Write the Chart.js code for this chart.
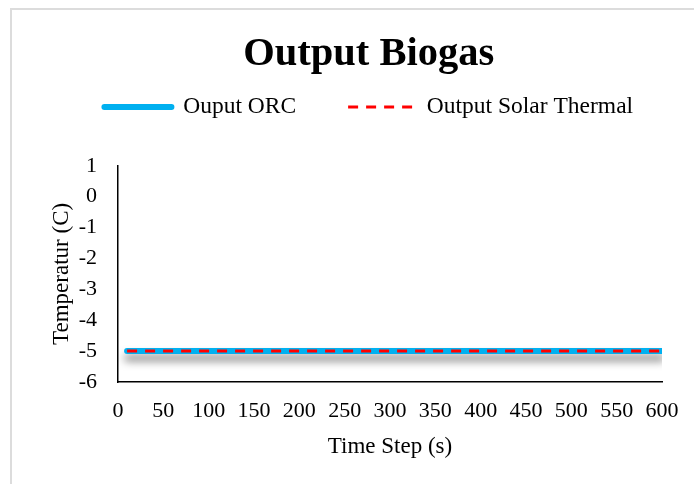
<!DOCTYPE html>
<html>
<head>
<meta charset="utf-8">
<script src="https://cdn.jsdelivr.net/npm/chart.js@4/dist/chart.umd.min.js"></script>
<style>
    html, body { margin: 0; padding: 0; background: #fff; }
    #wrap { position: relative; width: 694px; height: 484px; overflow: hidden; }
    #frame {
        position: absolute; left: 10px; top: 8px; width: 720px; height: 520px;
        border-top: 2px solid #dcdcdc; border-left: 2px solid #dcdcdc;
    }
    #outputChart { position: absolute; left: 0; top: 0; }
</style>
</head>
<body>
<div id="wrap">
    <div id="frame"></div>
    <canvas id="outputChart" width="694" height="484"></canvas>
</div>
<script>
// Series data
const timeSteps = [10, 600];
const orcOutput = [-5, -5];
const solarOutput = [-5, -5];
const xTicks = [0, 50, 100, 150, 200, 250, 300, 350, 400, 450, 500, 550, 600];
const yTicks = [-6, -5, -4, -3, -2, -1, 0, 1];

const SERIF = "'Liberation Serif', 'Times New Roman', serif";

// Drop shadow under the ORC line
const lineShadow = {
    id: 'lineShadow',
    beforeDatasetDraw(chart, args) {
        if (args.index !== 0) return;
        const ctx = chart.ctx;
        ctx.save();
        ctx.shadowColor = 'rgba(0, 0, 0, 0.5)';
        ctx.shadowBlur = 8;
        ctx.shadowOffsetX = 0;
        ctx.shadowOffsetY = 7;
    },
    afterDatasetDraw(chart, args) {
        if (args.index !== 0) return;
        chart.ctx.restore();
    }
};

// Extra room between legend and plot
const legendGap = {
    id: 'legendGap',
    beforeInit(chart) {
        const fit = chart.legend.fit;
        chart.legend.fit = function () {
            fit.call(this);
            this.height += 37;
        };
    }
};

// Legend lines follow the dataset stroke (width, dash, cap)
function legendLabels(chart) {
    const items = Chart.defaults.plugins.legend.labels.generateLabels(chart);
    items.forEach(item => {
        const ds = chart.data.datasets[item.datasetIndex];
        item.lineWidth = ds.borderWidth;
        item.lineDash = ds.borderDash || [];
        item.lineCap = ds.borderCapStyle || 'butt';
        item.strokeStyle = ds.borderColor;
    });
    return items;
}

const ctx = document.getElementById('outputChart').getContext('2d');
new Chart(ctx, {
    type: 'line',
    data: {
        datasets: [
            {
                label: 'Ouput ORC',
                data: timeSteps.map((t, i) => ({ x: t, y: orcOutput[i] })),
                borderColor: '#00B0F0',
                backgroundColor: '#00B0F0',
                borderWidth: 6,
                borderCapStyle: 'round',
                pointRadius: 0,
                pointStyle: 'line',
                order: 1
            },
            {
                label: 'Output Solar Thermal',
                data: timeSteps.map((t, i) => ({ x: t, y: solarOutput[i] })),
                borderColor: '#FF0000',
                backgroundColor: '#FF0000',
                borderWidth: 3,
                borderDash: [10, 8],
                pointRadius: 0,
                pointStyle: 'line',
                order: 0
            }
        ]
    },
    options: {
        responsive: false,
        animation: false,
        layout: { padding: { left: 43.5, right: 0, top: 0, bottom: 0 } },
        plugins: {
            title: {
                display: true,
                text: 'Output Biogas',
                color: '#000',
                font: { family: SERIF, size: 40.5, weight: 'bold', lineHeight: 1.2 },
                padding: { top: 30.7, bottom: -36 }
            },
            legend: {
                display: true,
                position: 'top',
                labels: {
                    usePointStyle: true,
                    pointStyleWidth: 67,
                    boxHeight: 24,
                    padding: 52,
                    color: '#000',
                    font: { family: SERIF, size: 23.5 },
                    sort: (a, b) => a.datasetIndex - b.datasetIndex,
                    generateLabels: legendLabels
                }
            },
            tooltip: { enabled: false }
        },
        scales: {
            x: {
                type: 'linear',
                min: 0,
                max: 600,
                afterBuildTicks: axis => { axis.ticks = xTicks.map(v => ({ value: v })); },
                afterFit: axis => { axis.paddingRight = 32; },
                grid: { display: false, drawTicks: false },
                border: { display: true, color: '#000', width: 1.5 },
                ticks: { color: '#000', padding: 16.3, maxRotation: 0, font: { family: SERIF, size: 22 } },
                title: {
                    display: true,
                    text: 'Time Step (s)',
                    color: '#000',
                    font: { family: SERIF, size: 23 },
                    padding: { top: -7.8, bottom: 23.2 }
                }
            },
            y: {
                min: -6,
                max: 1,
                afterBuildTicks: axis => { axis.ticks = yTicks.map(v => ({ value: v })); },
                grid: { display: false, drawTicks: false },
                border: { display: true, color: '#000', width: 1.5 },
                ticks: { color: '#000', padding: 21, autoSkip: false, font: { family: SERIF, size: 22 } },
                title: {
                    display: true,
                    text: 'Temperatur (C)',
                    color: '#000',
                    font: { family: SERIF, size: 23 },
                    padding: { top: 4.2, bottom: -17.6 }
                }
            }
        }
    },
    plugins: [lineShadow, legendGap]
});
</script>
</body>
</html>
